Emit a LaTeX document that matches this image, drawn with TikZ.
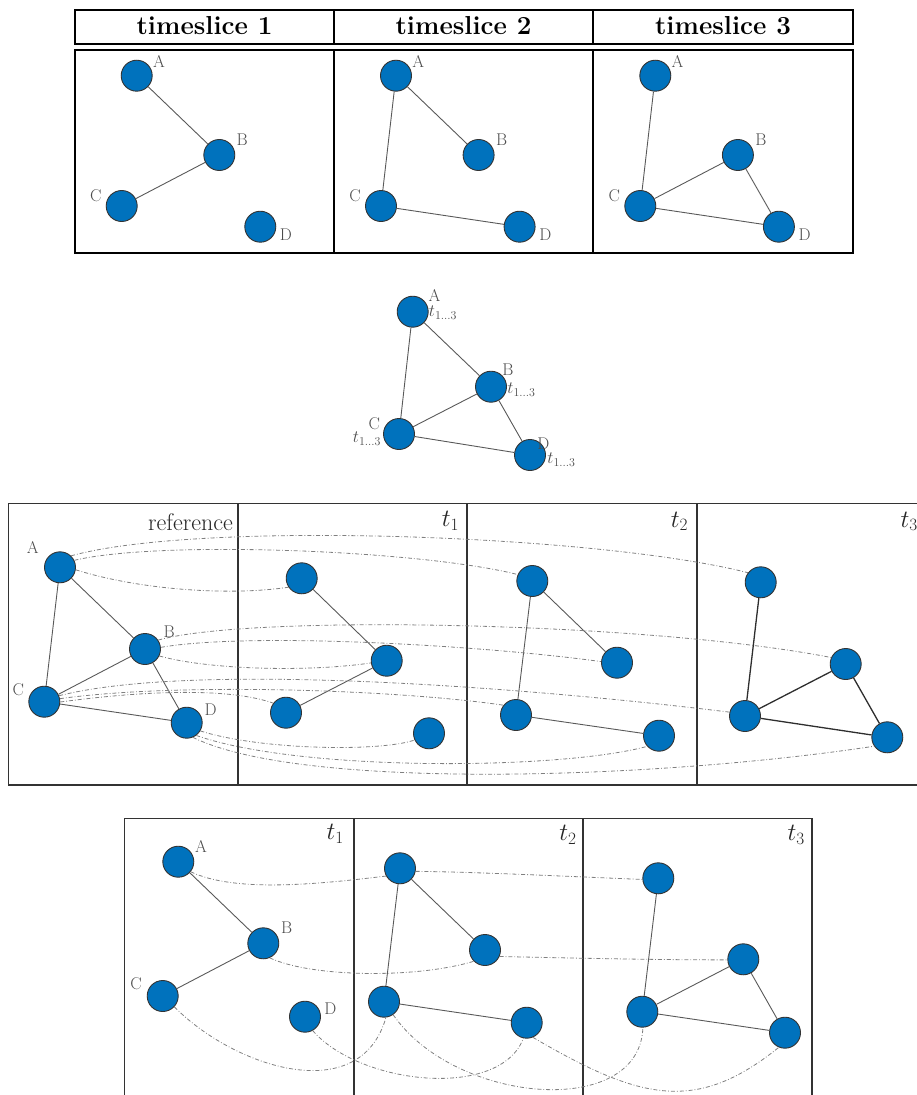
\documentclass[tikz,border=0pt]{standalone}
\definecolor{nodeblue}{RGB}{0,114,189}
\tikzset{
 vtx/.style={circle, minimum size=31pt, inner sep=0pt, fill=nodeblue, draw=black!80, line width=0.9pt},
 lab/.style={inner sep=0pt, text=black!70, font=\fontsize{17}{19}\selectfont},
 ed/.style={draw=black!65, line width=0.9pt},
 edk/.style={draw=black!82, line width=1.3pt},
 dd/.style={draw=black!50, line width=0.8pt, dash pattern=on 4pt off 2pt on 0.8pt off 2pt},
 tslab/.style={inner sep=0pt, font=\fontsize{24}{28}\selectfont, text=black!85, anchor=base east},
 hdr/.style={inner sep=0pt, font=\bfseries\fontsize{26}{30}\selectfont, anchor=base},
 thickbox/.style={draw=black, line width=2.6pt},
 pbox/.style={draw=black!80, line width=1.6pt},
}
\begin{document}
\begin{tikzpicture}[x=1pt,y=-1pt]
\useasboundingbox (0,0) rectangle (916,1095);

% ---------- top panel ----------
\draw[thickbox] (75,10) rectangle (853,44);
\draw[thickbox] (334,10) -- (334,44);
\draw[thickbox] (593,10) -- (593,44);
\draw[thickbox] (75,50) rectangle (853,253);
\draw[thickbox] (334,50) -- (334,253);
\draw[thickbox] (593,50) -- (593,253);
\node[hdr] (h1) at (204.5,34.5) {timeslice 1};
\node[hdr] (h2) at (463.5,34.5) {timeslice 2};
\node[hdr] (h3) at (723,34.5) {timeslice 3};

\foreach \i/\dx in {1/0, 2/259.3, 3/518.6}{
  \node[vtx] (tA\i) at (136.7+\dx,75.7) {};
  \node[vtx] (tB\i) at (219.3+\dx,155) {};
  \node[vtx] (tC\i) at (121.7+\dx,206) {};
  \node[vtx] (tD\i) at (260.3+\dx,226.7) {};
  \node[lab] (tAl\i) at (159+\dx,61) {A};
  \node[lab] (tBl\i) at (242.3+\dx,139.3) {B};
  \node[lab] (tCl\i) at (95.7+\dx,196) {C};
  \node[lab] (tDl\i) at (286+\dx,234.3) {D};
}
\draw[ed] (tA1)--(tB1) (tB1)--(tC1);
\draw[ed] (tA2)--(tB2) (tA2)--(tC2) (tC2)--(tD2);
\draw[ed] (tA3)--(tC3) (tC3)--(tB3) (tB3)--(tD3) (tC3)--(tD3);

% ---------- aggregated graph ----------
\node[vtx] (mA) at (412.7,311.7) {};
\node[vtx] (mB) at (491,386.7) {};
\node[vtx] (mC) at (399,434) {};
\node[vtx] (mD) at (530,455) {};
\draw[ed] (mA)--(mB) (mA)--(mC) (mB)--(mC) (mB)--(mD) (mC)--(mD);
\node[lab] (mAl) at (434.5,295) {A};
\node[lab] (mAt) at (443,312.5) {$t_{1\ldots3}$};
\node[lab] (mBl) at (508,370) {B};
\node[lab] (mBt) at (521.5,389.5) {$t_{1\ldots3}$};
\node[lab] (mCl) at (374.2,424) {C};
\node[lab] (mCt) at (367,438.5) {$t_{1\ldots3}$};
\node[lab] (mDl) at (543.5,443.5) {D};
\node[lab] (mDt) at (561.5,459.5) {$t_{1\ldots3}$};

% ---------- reference panel ----------
\draw[pbox] (8.3,503.3) rectangle (926,785);
\draw[pbox] (237.7,503.3) -- (237.7,785);
\draw[pbox] (466.7,503.3) -- (466.7,785);
\draw[pbox] (696.7,503.3) -- (696.7,785);
\node[tslab] (reflab) at (233,530.7) {reference};
\node[tslab] (p1lab) at (459.3,526.7) {$t_1$};
\node[tslab] (p2lab) at (688.3,527) {$t_2$};
\node[tslab] (p3lab) at (918,527) {$t_3$};

\node[vtx] (rA) at (60,567.3) {};
\node[vtx] (rB) at (145,649) {};
\node[vtx] (rC) at (44.3,701.7) {};
\node[vtx] (rD) at (186.7,722.7) {};
\node[lab] (rAl) at (32.7,547.3) {A};
\node[lab] (rBl) at (169.3,631.7) {B};
\node[lab] (rCl) at (18.3,690) {C};
\node[lab] (rDl) at (210.7,710) {D};
\draw[ed] (rA)--(rB) (rA)--(rC) (rB)--(rC) (rB)--(rD) (rC)--(rD);

\node[vtx] (a1) at (301.7,578.3) {};
\node[vtx] (b1) at (386.7,660.7) {};
\node[vtx] (c1) at (286,712.7) {};
\node[vtx] (d1) at (429,733.3) {};
\draw[ed] (a1)--(b1) (b1)--(c1);

\node[vtx] (a2) at (532.3,581) {};
\node[vtx] (b2) at (617,662.7) {};
\node[vtx] (c2) at (516,715) {};
\node[vtx] (d2) at (659,735.7) {};
\draw[ed] (a2)--(b2) (a2)--(c2) (c2)--(d2);

\node[vtx] (a3) at (760.7,582.3) {};
\node[vtx] (b3) at (845.7,664) {};
\node[vtx] (c3) at (745,716) {};
\node[vtx] (d3) at (887.3,737.3) {};
\draw[edk] (a3)--(c3) (c3)--(b3) (b3)--(d3) (c3)--(d3);

\draw[dd] (rA.46) .. controls (200,520) and (600,535) .. (a3.143);
\draw[dd] (rA.26) .. controls (160,540) and (420,550) .. (a2.156);
\draw[dd] (rA.-9) .. controls (140,590) and (230,596) .. (a1.214);
\draw[dd] (rB.34) .. controls (250,614) and (650,622) .. (b3.156);
\draw[dd] (rB.6) .. controls (250,632) and (480,645) .. (b2.176);
\draw[dd] (rB.-26) .. controls (210,670) and (310,672) .. (b1.188);
\draw[dd] (rC.22) .. controls (200,660) and (550,690) .. (c3.166);
\draw[dd] (rC.11) .. controls (180,682) and (400,690) .. (c2.142);
\draw[dd] (rC.-1) .. controls (150,690) and (230,688) .. (c1.143);
\draw[dd] (rD.-31) .. controls (260,750) and (380,752) .. (d1.205);
\draw[dd] (rD.-53) .. controls (300,772) and (560,770) .. (d2.222);
\draw[dd] (rD.-67) .. controls (300,790) and (650,780) .. (d3.214);

% ---------- bottom panel ----------
\draw[pbox] (124.3,1100) -- (124.3,818.3) -- (811.7,818.3) -- (811.7,1100);
\draw[pbox] (354,818.3) -- (354,1100);
\draw[pbox] (582.7,818.3) -- (582.7,1100);
\node[tslab] (q1lab) at (344,839.5) {$t_1$};
\node[tslab] (q2lab) at (576.7,840.5) {$t_2$};
\node[tslab] (q3lab) at (805,840.5) {$t_3$};

\node[vtx] (ba1) at (178.3,861.7) {};
\node[vtx] (bb1) at (263.3,943.3) {};
\node[vtx] (bc1) at (162.7,996) {};
\node[vtx] (bd1) at (305,1016.7) {};
\node[lab] (bAl) at (201,846.7) {A};
\node[lab] (bBl) at (286.7,927.3) {B};
\node[lab] (bCl) at (136,984) {C};
\node[lab] (bDl) at (330.5,1008.8) {D};
\draw[ed] (ba1)--(bb1) (bb1)--(bc1);

\node[vtx] (ba2) at (400,868.3) {};
\node[vtx] (bb2) at (485,950) {};
\node[vtx] (bc2) at (384,1001.7) {};
\node[vtx] (bd2) at (526.7,1022.7) {};
\draw[ed] (ba2)--(bb2) (ba2)--(bc2) (bc2)--(bd2);

\node[vtx] (ba3) at (658.3,878.3) {};
\node[vtx] (bb3) at (743.3,959.3) {};
\node[vtx] (bc3) at (642.3,1011.7) {};
\node[vtx] (bd3) at (785,1032.7) {};
\draw[ed] (ba3)--(bc3) (bc3)--(bb3) (bb3)--(bd3) (bc3)--(bd3);

\draw[dd] (ba1.-39) .. controls (235,893) and (320,884) .. (ba2.209);
\draw[dd] (ba2.-11) .. controls (480,872) and (580,877) .. (ba3.184);
\draw[dd] (bb1.-66) .. controls (310,977) and (415,979) .. (bb2.225);
\draw[dd] (bb2.-24) .. controls (570,958) and (660,960) .. (bb3.182);
\draw[dd] (bc1.-43) .. controls (235,1068) and (360,1108) .. (bc2.-83);
\draw[dd] (bd1.-61) .. controls (360,1085) and (500,1100) .. (bd2.258);
\draw[dd] (bc2.-55) .. controls (456,1105) and (640,1119) .. (bc3.-88);
\draw[dd] (bd2.-67) .. controls (640,1100) and (696,1114) .. (bd3.247);
\end{tikzpicture}
\end{document}
